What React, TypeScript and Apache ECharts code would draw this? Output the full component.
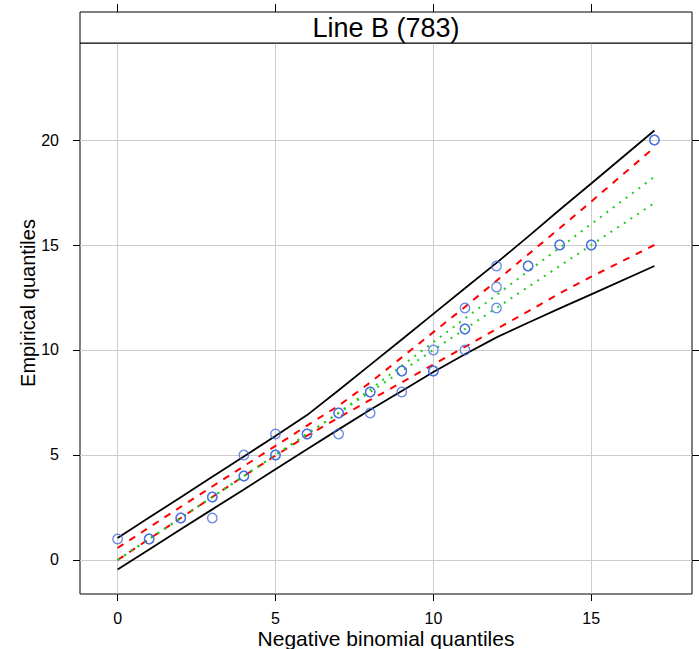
import React, { useEffect, useRef } from "react";
import * as echarts from "echarts";

const stripTitle = "Line B (783)";
const xTitle = "Negative binomial quantiles";
const yTitle = "Empirical quantiles";
const xTicks = [0, 5, 10, 15];
const yTicks = [0, 5, 10, 15, 20];

// QQ points (theoretical vs empirical)
const theoQ = [0, 1, 1, 2, 2, 3, 3, 3, 4, 4, 4, 5, 5, 5, 6, 6, 7, 7, 7, 8, 8, 8, 9, 9, 9, 10, 10, 10, 11, 11, 11, 11, 12, 12, 12, 13, 13, 14, 14, 15, 15, 17, 17];
const empQ = [1, 1, 1, 2, 2, 2, 3, 3, 4, 4, 5, 5, 5, 6, 6, 6, 6, 7, 7, 7, 8, 8, 8, 9, 9, 9, 9, 10, 10, 11, 11, 12, 12, 13, 14, 14, 14, 15, 15, 15, 15, 20, 20];

// envelope lines
const bandX = [0, 1, 2, 3, 4, 5, 6, 7, 8, 9, 10, 11, 12, 13, 14, 15, 17];
const outerUpper = [1.05, 2.02, 2.99, 3.96, 4.93, 5.9, 6.9, 8.08, 9.29, 10.5, 11.72, 12.94, 14.15, 15.4, 16.68, 17.93, 20.45];
const outerLower = [-0.45, 0.5, 1.46, 2.41, 3.36, 4.32, 5.27, 6.22, 7.15, 8.05, 8.95, 9.8, 10.6, 11.3, 11.98, 12.65, 14.0];
const innerUpper = [0.57, 1.55, 2.53, 3.5, 4.47, 5.43, 6.4, 7.35, 8.45, 9.65, 10.85, 12.05, 13.3, 14.55, 15.8, 17.07, 19.65];
const innerLower = [0, 1, 2, 3, 4, 4.97, 5.92, 6.78, 7.62, 8.46, 9.31, 10.15, 11.0, 11.84, 12.7, 13.49, 15.0];
const centerUpper = [0, 1, 2, 3, 4, 5, 6, 7, 8.12, 9.25, 10.37, 11.5, 12.62, 13.75, 14.87, 16.0, 18.25];
const centerLower = [0, 1, 2, 3, 4, 5, 6, 7, 8, 9, 10, 11, 12, 13, 14, 15, 17];

const W = 699;
const H = 649;
const GL = 80;
const GR = 7;
const GT = 43;
const GB = 55;
const STRIP_H = 31;
const FONT = "'Liberation Sans', Arial, sans-serif";

const pairs = (xs: number[], ys: number[]) => xs.map((x, i) => [x, ys[i]]);

export default function App() {
  const ref = useRef<HTMLDivElement>(null);
  useEffect(() => {
    const chart = echarts.init(ref.current!, null, { renderer: "svg" });
    const lineSeries = (data: number[], color: string, type: any, width: number) => ({
      type: "line",
      data: pairs(bandX, data),
      symbol: "none",
      silent: true,
      lineStyle: { color, type, width, cap: "butt" },
      z: 3,
    });
    const xBase = {
      type: "value",
      min: -1.19,
      max: 18.19,
      axisLine: { show: false, onZero: false },
      splitLine: { show: false },
    };
    const yBase = {
      type: "value",
      min: -1.62,
      max: 24.62,
      axisLine: { show: false, onZero: false },
      splitLine: { show: false },
    };
    const option: any = {
      animation: false,
      backgroundColor: "#ffffff",
      textStyle: { fontFamily: FONT },
      grid: {
        left: GL,
        right: GR,
        top: GT,
        bottom: GB,
        show: true,
        borderColor: "#000000",
        borderWidth: 1,
        backgroundColor: "transparent",
        containLabel: false,
        outerBoundsMode: "none",
      },
      xAxis: [
        {
          ...xBase,
          position: "bottom",
          axisTick: { show: true, length: 7, inside: false, customValues: xTicks, lineStyle: { color: "#000", width: 1 } },
          axisLabel: { show: true, customValues: xTicks, margin: 16, fontSize: 16, lineHeight: 16, color: "#000", fontFamily: FONT },
          splitLine: { show: true, lineStyle: { color: "#cccccc", width: 1 } },
        },
        {
          ...xBase,
          position: "top",
          offset: STRIP_H,
          axisTick: { show: true, length: 8, inside: false, customValues: xTicks, lineStyle: { color: "#000", width: 1 } },
          axisLabel: { show: false },
        },
      ],
      yAxis: [
        {
          ...yBase,
          position: "left",
          axisTick: { show: true, length: 7, inside: false, customValues: yTicks, lineStyle: { color: "#000", width: 1 } },
          axisLabel: { show: true, customValues: yTicks, margin: 21, fontSize: 16, color: "#000", fontFamily: FONT },
          splitLine: { show: true, lineStyle: { color: "#cccccc", width: 1 } },
        },
        {
          ...yBase,
          position: "right",
          axisTick: { show: true, length: 7, inside: false, customValues: yTicks, lineStyle: { color: "#000", width: 1 } },
          axisLabel: { show: false },
        },
      ],
      series: [
        lineSeries(outerUpper, "#000000", "solid", 1.8),
        lineSeries(outerLower, "#000000", "solid", 1.8),
        lineSeries(innerUpper, "#ff0000", [7, 7], 2),
        lineSeries(innerLower, "#ff0000", [7, 7], 2),
        lineSeries(centerUpper, "#1fcc1f", [2, 6], 2),
        lineSeries(centerLower, "#1fcc1f", [2, 6], 2),
        {
          type: "scatter",
          data: pairs(theoQ, empQ),
          symbol: "circle",
          symbolSize: 9.5,
          silent: true,
          itemStyle: { color: "rgba(0,0,0,0)", borderColor: "#4169e1", borderWidth: 1.3 },
          z: 4,
        },
      ],
      graphic: [
        {
          type: "rect",
          shape: { x: GL, y: GT - STRIP_H, width: W - GL - GR, height: STRIP_H },
          style: { fill: "#ffffff", stroke: "#000000", lineWidth: 1 },
          z: 10,
        },
        {
          type: "text",
          x: (GL + W - GR) / 2,
          y: GT - STRIP_H / 2 + 0.5,
          style: { text: stripTitle, fontSize: 27, fontFamily: FONT, fill: "#000", align: "center", verticalAlign: "middle" },
          z: 11,
        },
        {
          type: "text",
          x: (GL + W - GR) / 2,
          y: 638,
          style: { text: xTitle, fontSize: 21, lineHeight: 21, fontFamily: FONT, fill: "#000", align: "center", verticalAlign: "middle" },
        },
        {
          type: "text",
          x: 28,
          y: 303,
          rotation: Math.PI / 2,
          style: { text: yTitle, fontSize: 20, lineHeight: 20, fontFamily: FONT, fill: "#000", align: "center", verticalAlign: "middle" },
        },
      ],
    };
    chart.setOption(option);
    return () => chart.dispose();
  }, []);
  return <div ref={ref} style={{ position: "fixed", left: 0, top: 0, width: W, height: H }} />;
}
